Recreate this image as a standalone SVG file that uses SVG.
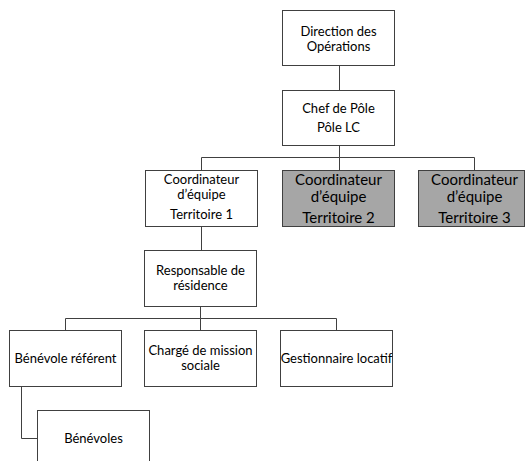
<svg xmlns="http://www.w3.org/2000/svg" width="526" height="461" viewBox="0 0 526 461">
<style>
.box{fill:#ffffff;stroke:#404040;stroke-width:1}
.grey{fill:#a6a6a6;stroke:#404040;stroke-width:1}
.t{font-family:Lato,"Open Sans","Liberation Sans",sans-serif;font-size:13px;fill:#000;text-anchor:middle}
.tg{font-family:Lato,"Open Sans","Liberation Sans",sans-serif;font-size:15px;fill:#000;text-anchor:middle}
.c{fill:none;stroke:#404040;stroke-width:1}
</style>
<rect width="526" height="461" fill="#ffffff"/>
<g id="connectors">
<path class="c" d="M339.5 65V90"/>
<path class="c" d="M339.5 146V157.5H201.5V170M339.5 157.5V170M339.5 157.5H474.5V170"/>
<path class="c" d="M201.5 226V250"/>
<path class="c" d="M200.5 306V318.5H65.5V330M200.5 318.5V330M200.5 318.5H336.5V330"/>
<path class="c" d="M21.5 386V438.5H37"/>
</g>
<g id="direction">
<rect class="box" x="282.5" y="10.5" width="112" height="55"/>
<text class="t" x="338.5" y="35.5">Direction des</text>
<text class="t" x="338.5" y="50.5">Opérations</text>
</g>
<g id="chef">
<rect class="box" x="282.5" y="90.5" width="112" height="55"/>
<text class="t" x="338.5" y="113">Chef de Pôle</text>
<text class="t" x="338.5" y="132">Pôle LC</text>
</g>
<g id="coord1">
<rect class="box" x="145.5" y="170.5" width="112" height="56"/>
<text class="t" x="201.5" y="184">Coordinateur</text>
<text class="t" x="201.5" y="199">d’équipe</text>
<text class="t" x="201.5" y="219">Territoire 1</text>
</g>
<g id="coord2">
<rect class="grey" x="282.5" y="170.5" width="112" height="56"/>
<text class="tg" x="338.5" y="184.5">Coordinateur</text>
<text class="tg" x="338.5" y="202">d’équipe</text>
<text class="tg" x="338.5" y="222.5">Territoire 2</text>
</g>
<g id="coord3">
<rect class="grey" x="418.5" y="170.5" width="106" height="56"/>
<text class="tg" x="474.5" y="184.5">Coordinateur</text>
<text class="tg" x="474.5" y="202">d’équipe</text>
<text class="tg" x="474.5" y="222.5">Territoire 3</text>
</g>
<g id="responsable">
<rect class="box" x="144.5" y="250.5" width="112" height="56"/>
<text class="t" x="200.5" y="274.5">Responsable de</text>
<text class="t" x="200.5" y="289.5">résidence</text>
</g>
<g id="benevole-referent">
<rect class="box" x="9.5" y="330.5" width="112" height="56"/>
<text class="t" x="65.5" y="363">Bénévole référent</text>
</g>
<g id="charge">
<rect class="box" x="144.5" y="330.5" width="112" height="56"/>
<text class="t" x="200.5" y="354.5">Chargé de mission</text>
<text class="t" x="200.5" y="369.5">sociale</text>
</g>
<g id="gestionnaire">
<rect class="box" x="280.5" y="330.5" width="112" height="56"/>
<text class="t" x="336.5" y="363">Gestionnaire locatif</text>
</g>
<g id="benevoles">
<rect class="box" x="37.5" y="410.5" width="112" height="60"/>
<text class="t" x="93.5" y="443">Bénévoles</text>
</g>
</svg>
